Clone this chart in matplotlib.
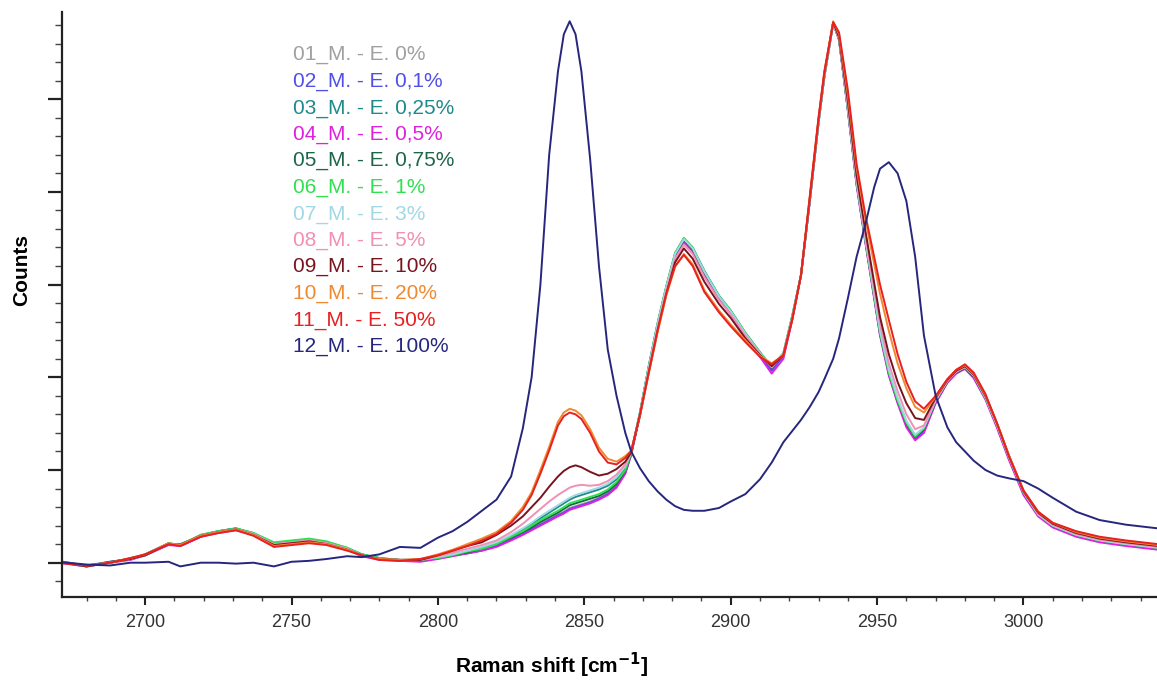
import numpy as np
import matplotlib.pyplot as plt
from matplotlib.ticker import MultipleLocator

plt.rcParams['font.family'] = ['Liberation Sans', 'DejaVu Sans']

# eixo x (Raman shift, cm-1)
raman_shift = [2670, 2680, 2688, 2695, 2700, 2708, 2712, 2719, 2725, 2731,
               2737, 2744, 2750, 2756, 2762, 2769, 2774, 2780, 2787, 2794,
               2800, 2805, 2810, 2815, 2820, 2825, 2829, 2832, 2835, 2838,
               2841, 2843, 2845, 2847, 2849, 2852, 2855, 2858, 2861, 2864,
               2866, 2869, 2872, 2875, 2878, 2881, 2884, 2887, 2891, 2896,
               2900, 2905, 2910, 2914, 2918, 2921, 2924, 2927, 2930, 2932,
               2935, 2937, 2940, 2943, 2946, 2949, 2951, 2954, 2957, 2960,
               2963, 2966, 2970, 2974, 2977, 2980, 2983, 2987, 2991, 2995,
               3000, 3005, 3010, 3018, 3026, 3035, 3046]

# intensidades (unidades arbitrarias)
s01 = [0.01, -0.04, 0.00, 0.04, 0.08, 0.20, 0.19, 0.29, 0.33, 0.36,
       0.31, 0.20, 0.22, 0.24, 0.21, 0.15, 0.08, 0.04, 0.03, 0.03,
       0.05, 0.08, 0.11, 0.14, 0.19, 0.26, 0.32, 0.37, 0.42, 0.47,
       0.52, 0.55, 0.59, 0.61, 0.63, 0.66, 0.70, 0.75, 0.83, 0.98,
       1.18, 1.60, 2.10, 2.55, 2.95, 3.30, 3.46, 3.36, 3.12, 2.86,
       2.70, 2.46, 2.26, 2.10, 2.25, 2.65, 3.10, 3.90, 4.75, 5.25,
       5.82, 5.65, 4.90, 4.10, 3.48, 2.88, 2.48, 2.05, 1.75, 1.50,
       1.35, 1.44, 1.74, 1.95, 2.05, 2.10, 2.01, 1.78, 1.48, 1.14,
       0.76, 0.52, 0.40, 0.30, 0.24, 0.20, 0.16]
s02 = [0.02, -0.03, 0.01, 0.04, 0.09, 0.21, 0.18, 0.28, 0.34, 0.37,
       0.30, 0.21, 0.23, 0.25, 0.20, 0.14, 0.09, 0.05, 0.02, 0.02,
       0.05, 0.08, 0.10, 0.13, 0.18, 0.25, 0.31, 0.36, 0.41, 0.46,
       0.51, 0.54, 0.58, 0.60, 0.62, 0.65, 0.69, 0.74, 0.82, 0.97,
       1.17, 1.61, 2.11, 2.56, 2.96, 3.31, 3.47, 3.37, 3.12, 2.86,
       2.69, 2.45, 2.24, 2.07, 2.23, 2.64, 3.10, 3.90, 4.76, 5.26,
       5.82, 5.64, 4.88, 4.08, 3.46, 2.86, 2.46, 2.03, 1.73, 1.48,
       1.33, 1.42, 1.73, 1.95, 2.05, 2.10, 2.00, 1.77, 1.47, 1.13,
       0.75, 0.51, 0.39, 0.29, 0.23, 0.19, 0.15]
s03 = [0.01, -0.03, 0.00, 0.05, 0.08, 0.21, 0.19, 0.30, 0.34, 0.37,
       0.32, 0.21, 0.23, 0.25, 0.22, 0.16, 0.09, 0.05, 0.03, 0.03,
       0.06, 0.09, 0.12, 0.16, 0.21, 0.29, 0.36, 0.42, 0.48, 0.54,
       0.60, 0.64, 0.68, 0.71, 0.73, 0.76, 0.79, 0.83, 0.90, 1.02,
       1.19, 1.62, 2.12, 2.58, 2.98, 3.34, 3.50, 3.40, 3.15, 2.88,
       2.72, 2.48, 2.27, 2.11, 2.26, 2.66, 3.10, 3.90, 4.75, 5.25,
       5.82, 5.65, 4.90, 4.10, 3.48, 2.89, 2.49, 2.06, 1.76, 1.52,
       1.37, 1.45, 1.75, 1.96, 2.06, 2.11, 2.02, 1.78, 1.48, 1.14,
       0.76, 0.52, 0.40, 0.30, 0.24, 0.20, 0.16]
s04 = [0.00, -0.04, 0.00, 0.03, 0.08, 0.19, 0.18, 0.28, 0.32, 0.35,
       0.30, 0.20, 0.21, 0.23, 0.20, 0.14, 0.07, 0.03, 0.02, 0.01,
       0.04, 0.07, 0.10, 0.13, 0.17, 0.24, 0.30, 0.35, 0.40, 0.45,
       0.50, 0.53, 0.57, 0.59, 0.61, 0.64, 0.68, 0.73, 0.81, 0.96,
       1.16, 1.60, 2.10, 2.55, 2.95, 3.30, 3.46, 3.36, 3.11, 2.85,
       2.68, 2.44, 2.22, 2.04, 2.20, 2.62, 3.10, 3.90, 4.75, 5.25,
       5.82, 5.64, 4.88, 4.07, 3.45, 2.85, 2.45, 2.02, 1.72, 1.46,
       1.32, 1.40, 1.72, 1.94, 2.04, 2.09, 1.99, 1.76, 1.45, 1.11,
       0.73, 0.50, 0.38, 0.28, 0.22, 0.18, 0.14]
s05 = [0.01, -0.04, 0.01, 0.04, 0.08, 0.20, 0.20, 0.29, 0.33, 0.36,
       0.31, 0.21, 0.22, 0.24, 0.21, 0.15, 0.08, 0.04, 0.03, 0.03,
       0.05, 0.08, 0.11, 0.15, 0.20, 0.27, 0.33, 0.38, 0.44, 0.49,
       0.54, 0.58, 0.62, 0.64, 0.66, 0.69, 0.72, 0.77, 0.85, 0.99,
       1.18, 1.61, 2.11, 2.57, 2.97, 3.32, 3.48, 3.38, 3.13, 2.87,
       2.71, 2.47, 2.26, 2.10, 2.25, 2.65, 3.10, 3.90, 4.75, 5.25,
       5.82, 5.65, 4.90, 4.10, 3.48, 2.88, 2.48, 2.05, 1.75, 1.50,
       1.35, 1.44, 1.74, 1.95, 2.05, 2.10, 2.01, 1.78, 1.48, 1.14,
       0.76, 0.52, 0.40, 0.30, 0.24, 0.20, 0.16]
s06 = [0.01, -0.03, 0.00, 0.04, 0.09, 0.21, 0.19, 0.30, 0.34, 0.37,
       0.32, 0.22, 0.24, 0.26, 0.23, 0.16, 0.09, 0.05, 0.03, 0.03,
       0.05, 0.08, 0.12, 0.15, 0.20, 0.28, 0.34, 0.40, 0.46, 0.51,
       0.56, 0.60, 0.64, 0.66, 0.68, 0.71, 0.74, 0.79, 0.87, 1.00,
       1.18, 1.62, 2.12, 2.58, 2.98, 3.34, 3.50, 3.40, 3.14, 2.88,
       2.72, 2.48, 2.27, 2.11, 2.26, 2.66, 3.10, 3.90, 4.75, 5.25,
       5.82, 5.65, 4.90, 4.10, 3.48, 2.88, 2.48, 2.05, 1.75, 1.51,
       1.36, 1.45, 1.75, 1.96, 2.06, 2.11, 2.02, 1.78, 1.48, 1.14,
       0.76, 0.52, 0.40, 0.30, 0.24, 0.20, 0.16]
s07 = [0.01, -0.04, 0.00, 0.04, 0.08, 0.20, 0.19, 0.29, 0.33, 0.36,
       0.31, 0.20, 0.22, 0.24, 0.21, 0.15, 0.08, 0.04, 0.03, 0.03,
       0.06, 0.09, 0.13, 0.17, 0.22, 0.30, 0.37, 0.43, 0.50, 0.56,
       0.62, 0.66, 0.70, 0.73, 0.75, 0.78, 0.81, 0.85, 0.92, 1.04,
       1.19, 1.61, 2.11, 2.57, 2.97, 3.33, 3.49, 3.39, 3.14, 2.87,
       2.71, 2.47, 2.26, 2.11, 2.26, 2.65, 3.10, 3.90, 4.75, 5.25,
       5.82, 5.65, 4.90, 4.11, 3.49, 2.90, 2.50, 2.08, 1.78, 1.53,
       1.38, 1.46, 1.75, 1.96, 2.06, 2.11, 2.02, 1.78, 1.48, 1.14,
       0.76, 0.52, 0.40, 0.30, 0.24, 0.20, 0.16]
s08 = [0.01, -0.04, 0.00, 0.04, 0.08, 0.20, 0.19, 0.29, 0.33, 0.36,
       0.31, 0.20, 0.22, 0.24, 0.21, 0.15, 0.08, 0.04, 0.03, 0.03,
       0.07, 0.11, 0.15, 0.19, 0.24, 0.33, 0.42, 0.50, 0.58, 0.66,
       0.73, 0.77, 0.81, 0.83, 0.84, 0.83, 0.84, 0.88, 0.95, 1.06,
       1.19, 1.60, 2.08, 2.53, 2.93, 3.28, 3.43, 3.33, 3.08, 2.83,
       2.68, 2.45, 2.25, 2.11, 2.25, 2.64, 3.10, 3.90, 4.76, 5.26,
       5.82, 5.66, 4.93, 4.14, 3.52, 2.95, 2.58, 2.15, 1.85, 1.60,
       1.44, 1.48, 1.76, 1.96, 2.06, 2.11, 2.02, 1.79, 1.49, 1.15,
       0.77, 0.53, 0.41, 0.31, 0.25, 0.21, 0.17]
s09 = [0.01, -0.04, 0.00, 0.04, 0.08, 0.20, 0.19, 0.29, 0.33, 0.36,
       0.30, 0.19, 0.21, 0.23, 0.20, 0.14, 0.08, 0.04, 0.03, 0.03,
       0.08, 0.13, 0.18, 0.22, 0.30, 0.40, 0.50, 0.60, 0.70, 0.82,
       0.93, 0.99, 1.03, 1.05, 1.03, 0.98, 0.94, 0.96, 1.01, 1.09,
       1.19, 1.58, 2.05, 2.50, 2.90, 3.24, 3.39, 3.28, 3.03, 2.79,
       2.64, 2.42, 2.24, 2.12, 2.24, 2.62, 3.10, 3.92, 4.78, 5.28,
       5.83, 5.67, 4.98, 4.18, 3.58, 3.02, 2.65, 2.25, 1.95, 1.72,
       1.56, 1.54, 1.78, 1.97, 2.07, 2.12, 2.03, 1.80, 1.50, 1.16,
       0.77, 0.54, 0.42, 0.32, 0.26, 0.22, 0.18]
s10 = [0.01, -0.03, 0.00, 0.05, 0.09, 0.21, 0.19, 0.29, 0.33, 0.36,
       0.30, 0.18, 0.20, 0.22, 0.20, 0.14, 0.08, 0.04, 0.03, 0.04,
       0.09, 0.14, 0.20, 0.26, 0.33, 0.45, 0.60, 0.76, 1.00, 1.25,
       1.52, 1.62, 1.66, 1.64, 1.59, 1.44, 1.24, 1.12, 1.09, 1.15,
       1.21, 1.59, 2.04, 2.48, 2.88, 3.19, 3.33, 3.22, 2.94, 2.72,
       2.57, 2.40, 2.23, 2.15, 2.24, 2.62, 3.10, 3.95, 4.80, 5.30,
       5.84, 5.70, 5.05, 4.26, 3.70, 3.22, 2.90, 2.50, 2.15, 1.88,
       1.68, 1.62, 1.79, 1.98, 2.08, 2.13, 2.04, 1.81, 1.50, 1.16,
       0.78, 0.55, 0.43, 0.33, 0.27, 0.23, 0.19]
s11 = [0.00, -0.03, 0.00, 0.05, 0.09, 0.20, 0.18, 0.28, 0.32, 0.35,
       0.29, 0.17, 0.19, 0.21, 0.19, 0.13, 0.08, 0.03, 0.02, 0.04,
       0.08, 0.13, 0.18, 0.24, 0.31, 0.43, 0.57, 0.73, 0.96, 1.21,
       1.48, 1.58, 1.62, 1.60, 1.55, 1.40, 1.20, 1.08, 1.06, 1.13,
       1.20, 1.60, 2.05, 2.50, 2.90, 3.20, 3.32, 3.20, 2.92, 2.70,
       2.55, 2.38, 2.22, 2.14, 2.24, 2.62, 3.10, 3.95, 4.80, 5.30,
       5.83, 5.72, 5.10, 4.30, 3.75, 3.30, 3.00, 2.62, 2.25, 1.95,
       1.74, 1.66, 1.80, 1.98, 2.08, 2.14, 2.05, 1.82, 1.50, 1.15,
       0.78, 0.55, 0.43, 0.34, 0.28, 0.24, 0.20]
s12 = [0.01, -0.02, -0.03, 0.00, 0.00, 0.01, -0.04, 0.00, 0.00, -0.01,
       0.00, -0.04, 0.01, 0.02, 0.04, 0.07, 0.06, 0.09, 0.17, 0.16,
       0.27, 0.34, 0.44, 0.56, 0.68, 0.93, 1.45, 2.00, 3.00, 4.40,
       5.30, 5.70, 5.84, 5.70, 5.30, 4.35, 3.20, 2.30, 1.80, 1.40,
       1.20, 1.02, 0.88, 0.77, 0.68, 0.61, 0.57, 0.56, 0.56, 0.59,
       0.66, 0.74, 0.90, 1.08, 1.30, 1.42, 1.54, 1.68, 1.84, 1.98,
       2.20, 2.42, 2.85, 3.30, 3.65, 4.05, 4.25, 4.32, 4.20, 3.90,
       3.30, 2.45, 1.80, 1.46, 1.30, 1.20, 1.10, 1.00, 0.94, 0.91,
       0.88, 0.80, 0.70, 0.55, 0.46, 0.41, 0.37]

nomes = ['01_M. - E. 0%', '02_M. - E. 0,1%', '03_M. - E. 0,25%', '04_M. - E. 0,5%',
         '05_M. - E. 0,75%', '06_M. - E. 1%', '07_M. - E. 3%', '08_M. - E. 5%',
         '09_M. - E. 10%', '10_M. - E. 20%', '11_M. - E. 50%', '12_M. - E. 100%']
cores = ['#a0a0a0', '#5050e8', '#1e8a8a', '#e020e0', '#1e6648', '#30e050',
         '#a0d8e4', '#f090b4', '#781420', '#f08a30', '#e82020', '#26267e']
series = [s01, s02, s03, s04, s05, s06, s07, s08, s09, s10, s11, s12]

fig = plt.figure(figsize=(11.57, 6.8), dpi=100)
ax = fig.add_axes([62 / 1157, 1 - 597 / 680, 1095 / 1157, 585 / 680])

for y, cor in zip(series, cores):
    ax.plot(raman_shift, y, color=cor, lw=1.4)

ax.set_xlim(2671.6, 3045.6)
ax.set_ylim(-0.37, 5.94)

ax.spines['top'].set_visible(False)
ax.spines['right'].set_visible(False)
for lado in ['left', 'bottom']:
    ax.spines[lado].set_color('#222222')
    ax.spines[lado].set_linewidth(1.6)

ax.xaxis.set_major_locator(MultipleLocator(50))
ax.xaxis.set_minor_locator(MultipleLocator(10))
ax.yaxis.set_major_locator(MultipleLocator(1))
ax.yaxis.set_minor_locator(MultipleLocator(0.2))
ax.tick_params(axis='x', which='major', length=6, width=1.5, color='#222222',
               labelsize=13, labelcolor='#333333', pad=6)
ax.tick_params(axis='x', which='minor', length=3, width=1.0, color='#444444')
ax.tick_params(axis='y', which='major', length=10, width=1.6, color='#222222',
               labelleft=False)
ax.tick_params(axis='y', which='minor', length=5, width=1.0, color='#444444')

ax.set_xlabel(r'Raman shift [cm$^{\mathbf{-1}}$]', fontsize=15, fontweight='bold')
ax.xaxis.set_label_coords((552 - 62) / 1095, (597 - 665) / 585)
ax.xaxis.label.set_va('center')
ax.set_ylabel('Counts', fontsize=15, fontweight='bold')
ax.yaxis.set_label_coords((22 - 62) / 1095, (597 - 270) / 585)
ax.yaxis.label.set_va('center')

# legenda como texto colorido
for i, (nome, cor) in enumerate(zip(nomes, cores)):
    fig.text(293 / 1157, 1 - (55 + 26.5 * i) / 680, nome, color=cor,
             fontsize=15, ha='left', va='center')

fig.savefig('out.png', dpi=100)
